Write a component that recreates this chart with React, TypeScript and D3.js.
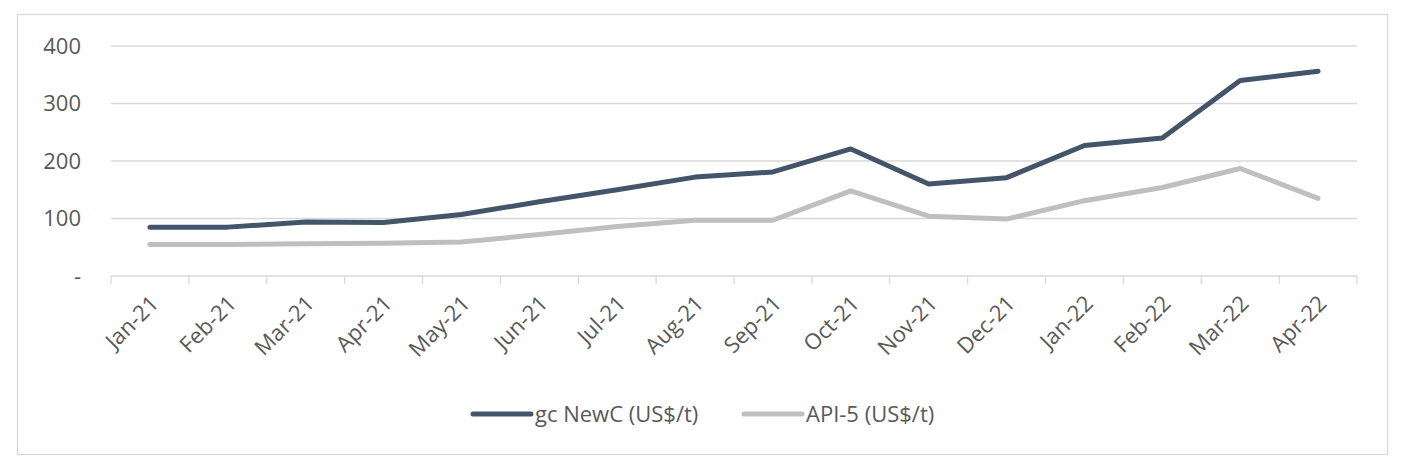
import * as d3 from "d3";
import { useEffect, useRef } from "react";

const months = [
  "Jan-21", "Feb-21", "Mar-21", "Apr-21", "May-21", "Jun-21", "Jul-21", "Aug-21",
  "Sep-21", "Oct-21", "Nov-21", "Dec-21", "Jan-22", "Feb-22", "Mar-22", "Apr-22",
];
const newcValues = [85, 85, 94, 93, 107, 129, 150, 172, 181, 221, 160, 171, 227, 240, 340, 356];
const api5Values = [55, 55, 56, 57, 59, 72, 86, 97, 97, 148, 104, 99, 131, 154, 187, 135];
const yTicks = [0, 100, 200, 300, 400];
const seriesNames = ["gc NewC (US$/t)", "API-5 (US$/t)"];
const seriesColors = ["#44546A", "#BFBFBF"];

const W = 1405;
const H = 467;
const FONT = "'Open Sans', sans-serif";

const App = () => {
  const ref = useRef(null);

  useEffect(() => {
    const svg = d3.select(ref.current);
    svg.selectAll("*").remove();

    const margin = { left: 111, right: 48, top: 46, bottom: 191 };
    const innerW = W - margin.left - margin.right;
    const innerH = H - margin.top - margin.bottom;

    // chart border
    svg.append("rect")
      .attr("x", 17.5).attr("y", 14.5)
      .attr("width", 1370).attr("height", 440)
      .attr("fill", "white")
      .attr("stroke", "#D9D9D9")
      .attr("stroke-width", 1.3);

    const x = d3.scaleBand().domain(months).range([0, innerW]);
    const y = d3.scaleLinear().domain([0, 400]).range([innerH, 0]);

    const g = svg.append("g").attr("transform", `translate(${margin.left},${margin.top})`);

    // gridlines
    g.selectAll(".grid")
      .data(yTicks.filter(t => t > 0))
      .enter()
      .append("line")
      .attr("x1", 0).attr("x2", innerW)
      .attr("y1", d => y(d)).attr("y2", d => y(d))
      .attr("stroke", "#D9D9D9")
      .attr("stroke-width", 1.3);

    // y labels
    g.selectAll(".ylab")
      .data(yTicks)
      .enter()
      .append("text")
      .attr("x", -30)
      .attr("y", d => y(d))
      .attr("dy", "0.35em")
      .attr("text-anchor", "end")
      .attr("font-family", FONT)
      .attr("font-size", 22)
      .attr("fill", "#595959")
      .text(d => (d === 0 ? "-" : d));

    // x axis line + ticks
    g.append("line")
      .attr("x1", 0).attr("x2", innerW)
      .attr("y1", innerH).attr("y2", innerH)
      .attr("stroke", "#D9D9D9")
      .attr("stroke-width", 1.3);

    const tickPos = months.map(m => x(m)).concat([innerW]);
    g.selectAll(".xtick")
      .data(tickPos)
      .enter()
      .append("line")
      .attr("x1", d => d).attr("x2", d => d)
      .attr("y1", innerH).attr("y2", innerH + 8)
      .attr("stroke", "#D9D9D9")
      .attr("stroke-width", 1.3);

    g.selectAll(".xlab")
      .data(months)
      .enter()
      .append("text")
      .attr("transform", d => `translate(${x(d) + x.bandwidth() / 2 - 1},${innerH + 18}) rotate(-45)`)
      .attr("text-anchor", "end")
      .attr("dy", "0.7em")
      .attr("font-family", FONT)
      .attr("font-size", 22)
      .attr("fill", "#595959")
      .text(d => d);

    const line = d3.line()
      .x((d, i) => x(months[i]) + x.bandwidth() / 2)
      .y(d => y(d));

    [newcValues, api5Values].forEach((vals, i) => {
      g.append("path")
        .datum(vals)
        .attr("d", line)
        .attr("fill", "none")
        .attr("stroke", seriesColors[i])
        .attr("stroke-width", 5)
        .attr("stroke-linejoin", "round")
        .attr("stroke-linecap", "round");
    });

    // legend
    const legendY = 414;
    const legendX = [473, 744];
    seriesNames.forEach((name, i) => {
      svg.append("line")
        .attr("x1", legendX[i]).attr("x2", legendX[i] + 58)
        .attr("y1", legendY).attr("y2", legendY)
        .attr("stroke", seriesColors[i])
        .attr("stroke-width", 5)
        .attr("stroke-linecap", "round");
      svg.append("text")
        .attr("x", legendX[i] + 62)
        .attr("y", legendY)
        .attr("dy", "0.35em")
        .attr("font-family", FONT)
        .attr("font-size", 22)
        .attr("fill", "#595959")
        .text(name);
    });
  }, []);

  return (
    <svg
      ref={ref}
      width={W}
      height={H}
      style={{ position: "absolute", left: 0, top: 0, background: "white" }}
    ></svg>
  );
};

export default App;
